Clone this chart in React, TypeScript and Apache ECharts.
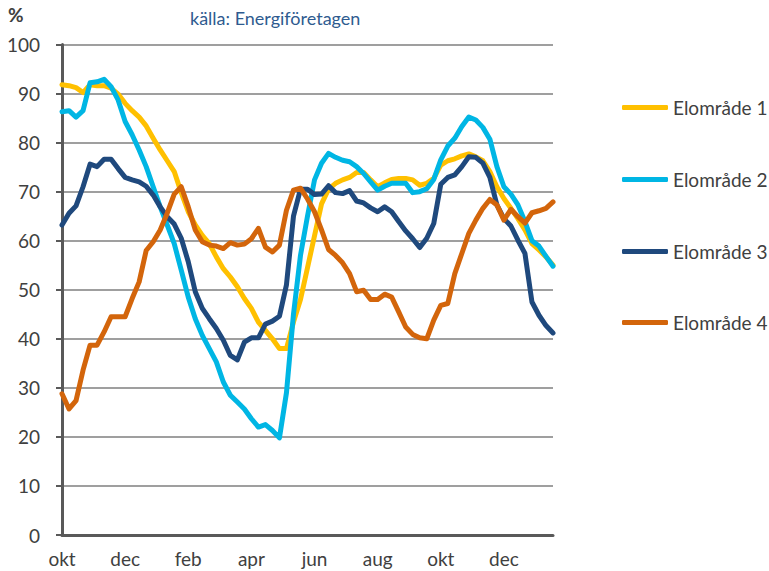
import React, { useEffect, useRef } from "react";
import * as echarts from "echarts";

// Weekly observations (71 weeks), month tick labels every 9th week
const tickLabels = ["okt", "dec", "feb", "apr", "jun", "aug", "okt", "dec"];
const labelStep = 9;
const weeks = Array.from({ length: 71 }, (_, i) => "v" + (i + 1));

const seriesNames = ["Elområde 1", "Elområde 2", "Elområde 3", "Elområde 4"];

const elomrade1 = [
  91.8, 91.6, 91.2, 90.2, 91.8, 91.6, 91.6, 91.1, 89.9, 88.0,
  86.5, 85.2, 83.4, 80.9, 78.5, 76.3, 74.1, 69.8, 65.9, 63.2,
  61.1, 59.4, 56.7, 54.3, 52.6, 50.6, 48.2, 46.2, 43.4, 41.7,
  40.0, 38.0, 38.0, 43.4, 48.0, 54.5, 61.0, 67.5, 70.5, 71.7,
  72.4, 72.9, 73.9, 73.9, 72.4, 71.0, 71.8, 72.5, 72.7, 72.7,
  72.4, 71.3, 71.7, 72.7, 75.4, 76.3, 76.7, 77.3, 77.7, 77.1,
  76.3, 74.1, 71.0, 68.6, 66.6, 64.5, 62.2, 59.4, 58.1, 56.7,
  55.0,
];

const elomrade2 = [
  86.3, 86.5, 85.2, 86.5, 92.2, 92.4, 92.9, 91.4, 88.7, 84.3,
  81.6, 78.5, 75.1, 71.0, 66.9, 63.2, 59.4, 54.0, 48.5, 44.1,
  40.7, 38.0, 35.3, 31.2, 28.5, 27.1, 25.7, 23.7, 22.0, 22.5,
  21.3, 19.8, 29.0, 45.0, 57.0, 65.0, 72.4, 75.8, 77.8, 77.0,
  76.4, 76.1, 75.1, 73.7, 72.0, 70.3, 71.1, 71.7, 71.7, 71.7,
  69.8, 70.0, 70.6, 72.5, 76.5, 79.3, 80.9, 83.3, 85.2, 84.6,
  83.1, 80.7, 75.1, 71.0, 69.5, 67.3, 63.9, 60.0, 58.9, 56.8,
  54.8,
];

const elomrade3 = [
  63.2, 65.6, 67.1, 71.0, 75.6, 75.1, 76.6, 76.6, 74.7, 72.9,
  72.4, 72.0, 71.1, 69.3, 66.9, 64.9, 63.4, 60.5, 55.7, 49.6,
  46.2, 44.1, 42.1, 39.7, 36.6, 35.7, 39.3, 40.2, 40.2, 43.0,
  43.6, 44.6, 51.0, 65.0, 70.5, 70.5, 69.4, 69.5, 71.2, 69.8,
  69.6, 70.2, 68.1, 67.7, 66.7, 65.9, 66.9, 65.9, 63.9, 62.0,
  60.4, 58.6, 60.5, 63.5, 71.5, 72.9, 73.4, 75.1, 77.1, 77.0,
  75.8, 72.9, 67.3, 64.5, 63.0, 60.1, 57.4, 47.5, 44.8, 42.7,
  41.2,
];

const elomrade4 = [
  28.8, 25.7, 27.4, 33.6, 38.7, 38.7, 41.4, 44.5, 44.5, 44.5,
  48.2, 51.6, 58.0, 59.8, 62.2, 65.6, 69.5, 71.0, 66.9, 62.2,
  59.8, 59.1, 58.9, 58.4, 59.6, 59.1, 59.3, 60.4, 62.5, 58.7,
  57.7, 59.1, 66.2, 70.3, 70.7, 68.5, 65.9, 62.2, 58.2, 57.0,
  55.5, 53.3, 49.6, 49.9, 48.0, 48.0, 49.1, 48.5, 45.5, 42.4,
  40.9, 40.2, 40.0, 43.8, 46.8, 47.2, 53.3, 57.4, 61.5, 64.2,
  66.6, 68.4, 67.3, 64.2, 66.4, 64.9, 63.6, 65.7, 66.1, 66.6,
  67.9,
];

const seriesValues = [elomrade1, elomrade2, elomrade3, elomrade4];
const colors = ["#FFC000", "#00B6E4", "#1F497D", "#D3650B"];
const legendRows = [108, 180, 252, 323];

const FONT = "Lato, 'Open Sans', sans-serif";

export default function App() {
  const ref = useRef<HTMLDivElement>(null);

  useEffect(() => {
    if (!ref.current) return;
    const chart = echarts.init(ref.current, undefined, { renderer: "svg" });
    const option: any = {
      animation: false,
      backgroundColor: "#ffffff",
      textStyle: { fontFamily: FONT },
      title: [
        {
          text: "källa: Energiföretagen",
          left: 190,
          top: 9,
          padding: 0,
          textStyle: {
            fontFamily: FONT,
            fontSize: 18,
            fontWeight: "normal",
            color: "#2F5B8F",
          },
        },
        {
          text: "%",
          left: 8,
          top: 5,
          padding: 0,
          textStyle: {
            fontFamily: FONT,
            fontSize: 19,
            fontWeight: "bold",
            color: "#404040",
          },
        },
      ],
      legend: seriesNames.map((n, k) => ({
        data: [n],
        orient: "vertical",
        left: 622,
        top: legendRows[k] - 10,
        padding: 0,
        itemWidth: 46,
        itemHeight: 5,
        icon: "roundRect",
        selectedMode: false,
        textStyle: { fontFamily: FONT, fontSize: 19, color: "#404040" },
      })),
      grid: { left: 62, right: 216, top: 44.5, bottom: 36, containLabel: false },
      xAxis: {
        type: "category",
        data: weeks,
        boundaryGap: false,
        axisLine: { lineStyle: { color: "#595959", width: 3 } },
        axisTick: { show: false },
        splitLine: { show: false },
        axisLabel: {
          interval: labelStep - 1,
          margin: 14,
          fontFamily: FONT,
          fontSize: 19,
          color: "#404040",
          formatter: (_v: string, idx: number) =>
            idx % labelStep === 0 ? tickLabels[idx / labelStep] ?? "" : "",
        },
      },
      yAxis: {
        type: "value",
        min: 0,
        max: 100,
        interval: 10,
        axisLine: { show: true, lineStyle: { color: "#595959", width: 3 } },
        axisTick: { show: true, length: 6, lineStyle: { color: "#595959", width: 2 } },
        axisLabel: {
          margin: 22,
          fontFamily: FONT,
          fontSize: 19,
          color: "#404040",
        },
        splitLine: { lineStyle: { color: "#7F7F7F", width: 1.5 } },
      },
      series: seriesNames.map((n, k) => ({
        name: n,
        type: "line",
        data: seriesValues[k],
        symbol: "none",
        showSymbol: false,
        color: colors[k],
        lineStyle: { color: colors[k], width: 5, cap: "round", join: "round" },
      })),
    };
    chart.setOption(option);
    return () => chart.dispose();
  }, []);

  return (
    <div
      ref={ref}
      style={{ width: 769, height: 571, position: "absolute", left: 0, top: 0 }}
    />
  );
}
